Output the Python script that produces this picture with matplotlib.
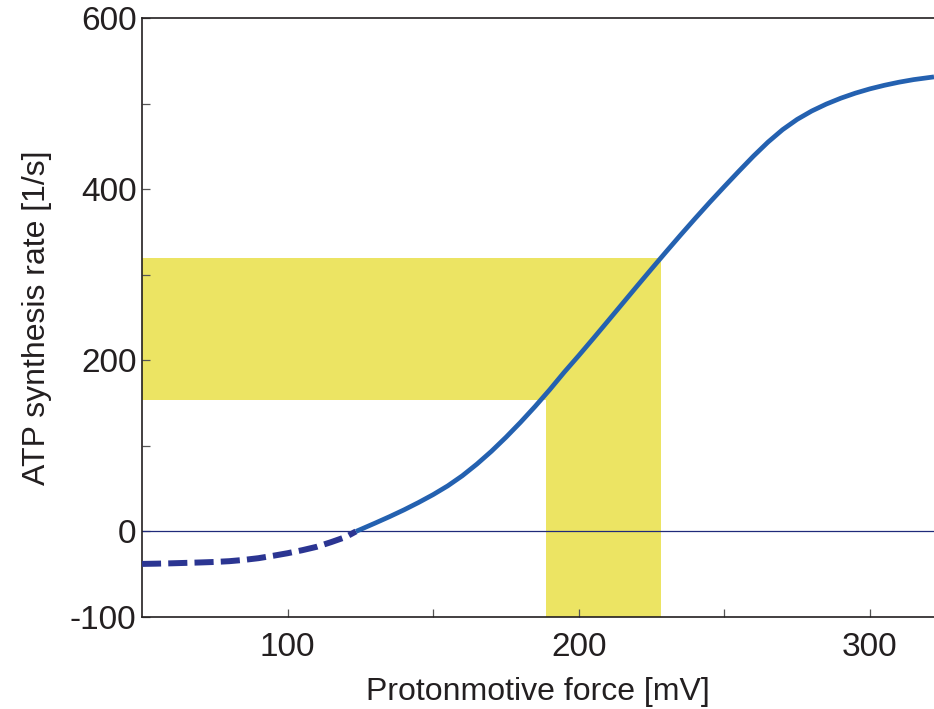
"""ATP synthesis rate versus protonmotive force, with the physiological window"""

import matplotlib.pyplot as plt
from matplotlib.ticker import FixedLocator, FuncFormatter

plt.rcParams['font.family'] = ['Liberation Sans', 'DejaVu Sans']

PMF_REVERSE = [50, 55, 60, 65, 70, 75, 80, 85, 90, 95, 100, 105, 110,
               115, 120, 123.5]
RATE_REVERSE = [-38, -37.7, -37.3, -36.8, -36.3, -35.7, -34.8, -33.3,
                -31.3, -28.5, -25.5, -22, -18, -12.5, -6.5, 0]

PMF_FORWARD = [123.5, 125, 130, 135, 140, 145, 150, 155, 160, 165, 170,
               175, 180, 185, 190, 195, 200, 205, 210, 215, 220, 225,
               230, 235, 240, 245, 250, 255, 260, 265, 270, 275, 280,
               285, 290, 295, 300, 305, 310, 315, 322]
RATE_FORWARD = [0, 2.2, 9.6, 17.2, 25.2, 33.8, 43, 53.2, 65, 78.6, 93.6,
                110, 127.5, 146, 165.5, 186, 205.5, 225.5, 245.8, 266.2,
                286.6, 306.8, 326.8, 346.5, 365.8, 384.7, 403, 421,
                438.6, 455, 469.5, 481.5, 491.3, 499.4, 506.3, 512.2,
                517.2, 521.4, 525, 528, 531.2]

PMF_WINDOW = [188.7, 228.2]
RATE_WINDOW = [153.5, 319]

X_LIMITS = [50, 322]
Y_LIMITS = [-100, 600]
X_TICKS = [100, 150, 200, 250, 300]
X_LABELED = [100, 200, 300]
Y_TICKS = [-100, 0, 100, 200, 300, 400, 500, 600]
Y_LABELED = [-100, 0, 200, 400, 600]

YELLOW = '#ece463'
TEXT = '#231f20'

fig = plt.figure(figsize=(9.34, 7.09), dpi=100)
ax = fig.add_axes([0.152, 0.1298, 0.848, 0.8448])

# physiological window
ax.fill_between([X_LIMITS[0], PMF_WINDOW[1]], RATE_WINDOW[0], RATE_WINDOW[1],
                color=YELLOW, linewidth=0, zorder=1)
ax.fill_between(PMF_WINDOW, Y_LIMITS[0], RATE_WINDOW[0],
                color=YELLOW, linewidth=0, zorder=1)

ax.axhline(0, color='#1f2a7a', linewidth=0.9, zorder=2)

ax.plot(PMF_REVERSE, RATE_REVERSE, color='#2b3592', linewidth=4.3,
        dashes=(3.2, 1.2), solid_capstyle='butt', zorder=3)
ax.plot(PMF_FORWARD, RATE_FORWARD, color='#2461b0', linewidth=3.4,
        solid_capstyle='butt', solid_joinstyle='round', zorder=4)

ax.set_xlim(X_LIMITS)
ax.set_ylim(Y_LIMITS)

ax.xaxis.set_major_locator(FixedLocator(X_TICKS))
ax.yaxis.set_major_locator(FixedLocator(Y_TICKS))
ax.xaxis.set_major_formatter(
    FuncFormatter(lambda v, _: f'{v:.0f}' if v in X_LABELED else ''))
ax.yaxis.set_major_formatter(
    FuncFormatter(lambda v, _: f'{v:.0f}' if v in Y_LABELED else ''))
ax.tick_params(direction='in', length=6, width=0.9, color='#555555',
               labelsize=24, labelcolor=TEXT)
ax.tick_params(axis='x', pad=11)
ax.tick_params(axis='y', pad=4)

ax.spines['right'].set_visible(False)
for side in ['left', 'bottom', 'top']:
    ax.spines[side].set_linewidth(1.2)
    ax.spines[side].set_color(TEXT)

ax.set_xlabel('Protonmotive force [mV]', fontsize=23, color=TEXT,
              labelpad=10)
ax.set_ylabel('ATP synthesis rate [1/s]', fontsize=23, color=TEXT,
              labelpad=13)

fig.savefig('out.png', dpi=100)
